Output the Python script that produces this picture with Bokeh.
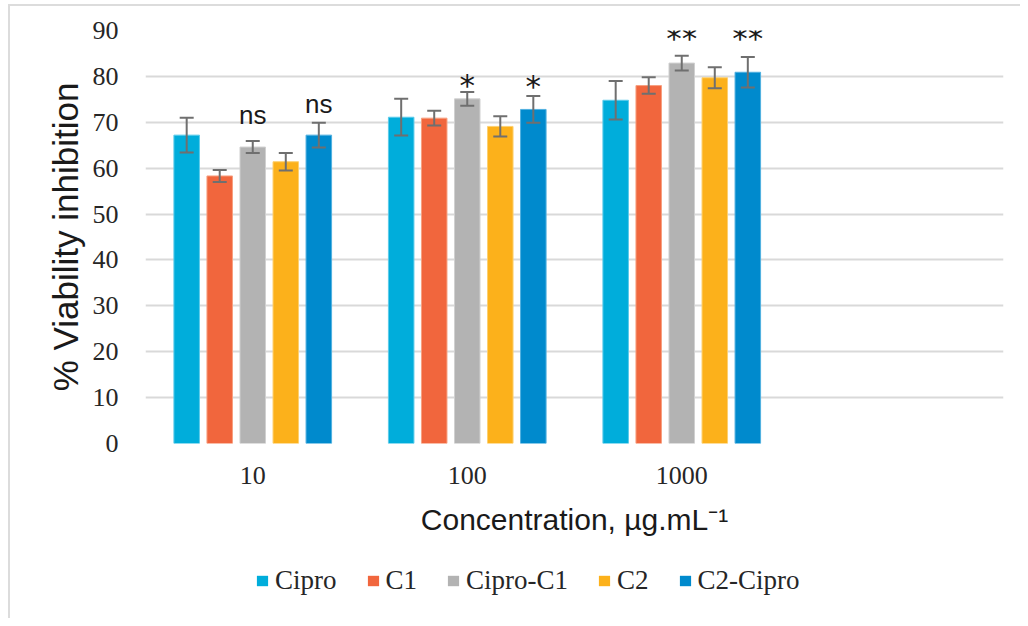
from bokeh.plotting import figure
from bokeh.layouts import column
from bokeh.models import (ColumnDataSource, Range1d, FixedTicker, Whisker, TeeHead,
                          Legend, LegendItem)
from bokeh.embed import file_html
from bokeh.resources import INLINE

# ---- data ----
groups = ["10", "100", "1000"]
series = ["Cipro", "C1", "Cipro-C1", "C2", "C2-Cipro"]
cipro = [67.2, 71.1, 74.8]
c1 = [58.3, 70.9, 78.0]
cipro_c1 = [64.6, 75.1, 82.9]
c2 = [61.4, 69.1, 79.7]
c2_cipro = [67.2, 72.8, 80.9]
cipro_err = [3.8, 4.0, 4.2]
c1_err = [1.3, 1.6, 1.8]
cipro_c1_err = [1.3, 1.5, 1.6]
c2_err = [1.9, 2.2, 2.3]
c2_cipro_err = [2.7, 2.9, 3.3]
y_ticks = [0, 10, 20, 30, 40, 50, 60, 70, 80, 90]

sig_labels = ["ns", "ns", "*", "*", "**", "**"]
sig_group = [0, 0, 1, 1, 2, 2]
sig_series = [2, 4, 2, 4, 2, 4]
sig_y = [71.6, 73.9, 78.1, 77.8, 88.3, 88.3]

means = [cipro, c1, cipro_c1, c2, c2_cipro]
errs = [cipro_err, c1_err, cipro_c1_err, c2_err, c2_cipro_err]
colors = ["#00ADDB", "#F1663D", "#B3B3B3", "#FCB11B", "#008ACD"]
edge_colors = ["#5CCBEA", "#F7A080", "#D0D0D0", "#FDD070", "#50B0E0"]

PITCH = 0.154
BAR_W = 0.119
group_x = [i + 1 for i in range(len(groups))]


def xpos(g, s):
    return group_x[g] + (s - (len(series) - 1) / 2) * PITCH


p = figure(width=1010, height=544, output_backend="svg", toolbar_location=None,
           x_range=Range1d(0.5, 4.5), y_range=Range1d(0, 90),
           min_border_left=135, min_border_right=17, min_border_top=24,
           min_border_bottom=107)
p.outline_line_color = None
p.background_fill_color = "white"

for s, name in enumerate(series):
    src = ColumnDataSource(dict(
        x=[xpos(g, s) for g in range(len(groups))],
        top=means[s],
        upper=[m + e for m, e in zip(means[s], errs[s])],
        lower=[m - e for m, e in zip(means[s], errs[s])],
    ))
    p.vbar(x="x", top="top", width=BAR_W, bottom=0, source=src,
           fill_color=colors[s], line_color=edge_colors[s], line_width=1)
    w = Whisker(base="x", upper="upper", lower="lower", source=src,
                line_color="#6f6f6f", line_width=2, level="overlay",
                upper_head=TeeHead(size=14, line_color="#6f6f6f", line_width=2),
                lower_head=TeeHead(size=14, line_color="#6f6f6f", line_width=2))
    p.add_layout(w)

is_star = ["*" in t for t in sig_labels]
sig_src = ColumnDataSource(dict(
    x=[xpos(g, s) for g, s in zip(sig_group, sig_series)],
    y=sig_y, t=sig_labels,
    font=["DejaVu Sans" if st else "Liberation Sans" for st in is_star],
    size=["31px" if st else "26px" for st in is_star]))
p.text(x="x", y="y", text="t", source=sig_src, text_align="center",
       text_baseline="alphabetic", text_font="font",
       text_font_size="size", text_color="#1a1a1a")

# axes
p.xaxis.ticker = FixedTicker(ticks=group_x)
p.xaxis.major_label_overrides = {x: g for x, g in zip(group_x, groups)}
p.yaxis.ticker = FixedTicker(ticks=y_ticks)
for ax in (p.xaxis, p.yaxis):
    ax.axis_line_color = None
    ax.major_tick_line_color = None
    ax.minor_tick_line_color = None
    ax.major_label_text_font = "Liberation Serif"
    ax.major_label_text_font_size = "26px"
    ax.major_label_text_color = "#262626"
    ax.axis_label_text_font = "Liberation Sans"
    ax.axis_label_text_font_style = "normal"
    ax.axis_label_text_color = "#1a1a1a"
p.yaxis.major_label_standoff = 21
p.xaxis.major_label_standoff = 17
p.xaxis.axis_label = "Concentration, µg.mL⁻¹"
p.xaxis.axis_label_text_font_size = "30px"
p.xaxis.axis_label_standoff = 16
p.yaxis.axis_label = "% Viability inhibition"
p.yaxis.axis_label_text_font_size = "35px"
p.yaxis.axis_label_standoff = 5

p.xgrid.grid_line_color = None
p.ygrid.grid_line_color = "#d9d9d9"
p.ygrid.grid_line_width = 2

# legend strip (proxy renderers hold a single NaN so nothing is drawn in the strip)
lf = figure(width=1010, height=68, output_backend="svg", toolbar_location=None,
            x_range=Range1d(0, 1), y_range=Range1d(0, 1), min_border=0,
            x_axis_location=None, y_axis_location=None)
lf.outline_line_color = None
lf.xgrid.grid_line_color = None
lf.ygrid.grid_line_color = None
items = []
for s, name in enumerate(series):
    r = lf.vbar(x=[float("nan")], top=[float("nan")], width=0.1,
                fill_color=colors[s], line_color=None)
    items.append(LegendItem(label=name, renderers=[r]))
legend = Legend(items=items, orientation="horizontal", location=(110, 22),
                glyph_width=14, glyph_height=13, label_standoff=6, spacing=29,
                label_text_font="Liberation Serif", label_text_font_size="27px",
                label_text_color="#262626", border_line_color=None,
                background_fill_alpha=0, padding=0, margin=0)
lf.add_layout(legend, "center")

layout = column(p, lf, spacing=0)
layout.styles = {"border-left": "2px solid #dcdcdc", "border-top": "2px solid #dcdcdc",
                 "margin-left": "8px", "margin-top": "4px"}
open("out.html", "w").write(file_html(layout, INLINE))
